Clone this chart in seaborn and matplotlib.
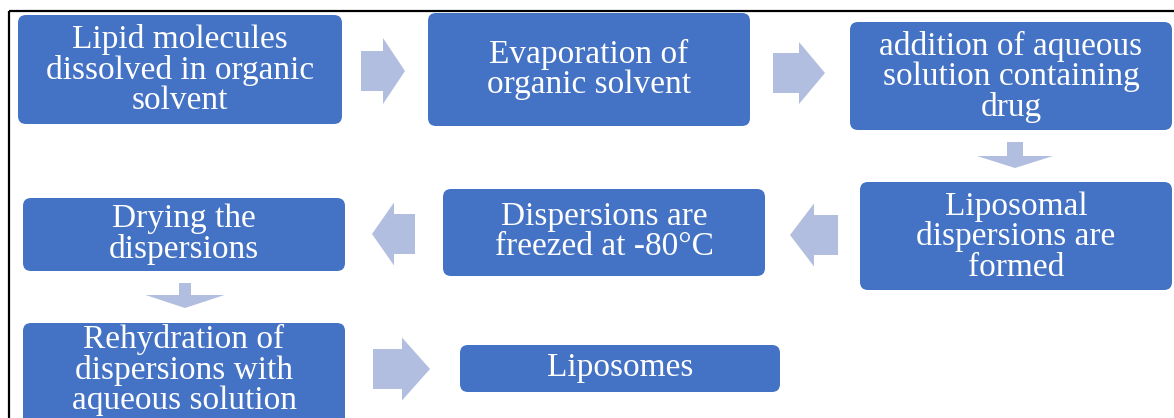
import matplotlib
matplotlib.use("Agg")
import matplotlib.pyplot as plt
import matplotlib.patches as mpatches
import seaborn as sns

# ---- content ----
steps = [
    "Lipid molecules\ndissolved in organic\nsolvent",
    "Evaporation of\norganic solvent",
    "addition of aqueous\nsolution containing\ndrug",
    "Liposomal\ndispersions are\nformed",
    "Dispersions are\nfreezed at -80°C",
    "Drying the\ndispersions",
    "Rehydration of\ndispersions with\naqueous solution",
    "Liposomes",
]

# ---- layout (pixel coordinates: x0, y0, x1, y1) ----
box_x0 = [18, 428, 850, 860, 443, 23, 23, 460]
box_y0 = [15, 13, 22, 182, 189, 198, 323, 345]
box_x1 = [342, 750, 1172, 1172, 765, 345, 345, 780]
box_y1 = [124, 126, 130, 290, 276, 271, 430, 392]
text_y = [70, 69, 77, 237, 232, 234, 370, 368]

# arrows: tail x, tail y, dx, dy, shaft width, head width, head length
arrow_x = [361, 773, 1015, 838, 415, 185, 373]
arrow_y = [71, 73, 142, 235, 234, 283, 369]
arrow_dx = [44, 52, 0, -48, -43, 0, 57]
arrow_dy = [0, 0, 26, 0, 0, 25, 0]
arrow_w = [40, 40, 16, 40, 40, 12, 40]
arrow_hw = [66, 62, 76, 63, 63, 79, 63]
arrow_hl = [22, 26, 12, 24, 22, 13, 28]

BOX_COLOR = "#4472C4"
ARROW_COLOR = "#B1BEDF"

sns.set_theme(style="white")
plt.rcParams["font.family"] = ["Liberation Serif", "DejaVu Serif"]

fig = plt.figure(figsize=(11.74, 4.18), dpi=100)
ax = fig.add_axes([0, 0, 1, 1])
ax.set_xlim(0, 1174)
ax.set_ylim(418, 0)
ax.axis("off")

# outer frame (top and left edges visible)
ax.plot([9, 1174], [11, 11], color="black", lw=1.6, solid_capstyle="butt")
ax.plot([9, 9], [11, 418], color="black", lw=1.6, solid_capstyle="butt")

for lbl, x0, y0, x1, y1, ty in zip(steps, box_x0, box_y0, box_x1, box_y1, text_y):
    p = mpatches.FancyBboxPatch(
        (x0, y0), x1 - x0, y1 - y0,
        boxstyle="round,pad=0,rounding_size=8",
        facecolor=BOX_COLOR, edgecolor="none",
    )
    ax.add_patch(p)
    ax.text((x0 + x1) / 2, ty, lbl, ha="center", va="center",
            color="white", fontsize=24, linespacing=0.98)

for x, y, dx, dy, w, hw, hl in zip(arrow_x, arrow_y, arrow_dx, arrow_dy,
                                   arrow_w, arrow_hw, arrow_hl):
    a = mpatches.FancyArrow(x, y, dx, dy, width=w, head_width=hw,
                            head_length=hl, length_includes_head=True,
                            facecolor=ARROW_COLOR, edgecolor="none")
    ax.add_patch(a)

fig.savefig("out.png", dpi=100)
